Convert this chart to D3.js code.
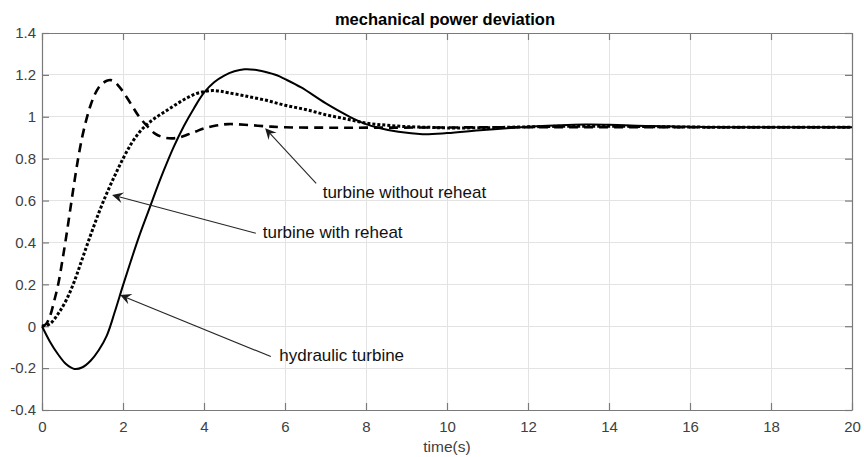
<!DOCTYPE html>
<html>
<head>
<meta charset="utf-8">
<script src="https://cdn.jsdelivr.net/npm/d3@7"></script>
<style>
  html, body { margin: 0; padding: 0; background: #fff; }
  svg { display: block; font-family: "Liberation Sans", Arial, sans-serif; }
</style>
</head>
<body>
<svg id="chart" width="864" height="457"></svg>
<script>
// ---- data ----
const title = "mechanical power deviation";
const xLabel = "time(s)";
const xTicks = [0, 2, 4, 6, 8, 10, 12, 14, 16, 18, 20];
const yTicks = [-0.4, -0.2, 0, 0.2, 0.4, 0.6, 0.8, 1, 1.2, 1.4];

// turbine without reheat (dashed)
const tNoReheat = [0, 0.1, 0.2, 0.3, 0.4, 0.5, 0.6, 0.7, 0.8, 0.9, 1.0, 1.1, 1.2, 1.3, 1.4, 1.5, 1.6, 1.7, 1.8, 1.9, 2.0, 2.2, 2.4, 2.6, 2.8, 3.0, 3.2, 3.4, 3.6, 3.8, 4.0, 4.3, 4.6, 5.0, 5.5, 6.0, 7, 8, 10, 12, 14, 16, 18, 20];
const pNoReheat = [0, 0.01, 0.05, 0.12, 0.2, 0.31, 0.43, 0.56, 0.69, 0.81, 0.91, 0.99, 1.055, 1.105, 1.14, 1.16, 1.172, 1.175, 1.165, 1.145, 1.12, 1.06, 1.0, 0.955, 0.918, 0.902, 0.897, 0.902, 0.915, 0.93, 0.945, 0.958, 0.965, 0.962, 0.955, 0.95, 0.948, 0.948, 0.949, 0.95, 0.95, 0.95, 0.95, 0.95];

// turbine with reheat (dotted)
const tReheat = [0, 0.2, 0.4, 0.6, 0.8, 1.0, 1.2, 1.4, 1.6, 1.8, 2.0, 2.2, 2.4, 2.6, 2.8, 3.0, 3.2, 3.4, 3.6, 3.8, 4.0, 4.2, 4.4, 4.6, 5.0, 5.5, 6.0, 6.5, 7.0, 7.5, 8.0, 8.5, 9.0, 9.5, 10, 11, 12, 13, 14, 15, 16, 17, 18, 19, 20];
const pReheat = [0, 0.012, 0.06, 0.125, 0.215, 0.325, 0.435, 0.54, 0.635, 0.72, 0.8, 0.87, 0.925, 0.965, 0.995, 1.02, 1.045, 1.07, 1.092, 1.11, 1.12, 1.125, 1.122, 1.115, 1.10, 1.08, 1.055, 1.035, 1.01, 0.99, 0.97, 0.96, 0.953, 0.95, 0.947, 0.948, 0.952, 0.955, 0.955, 0.953, 0.951, 0.95, 0.95, 0.95, 0.95];

// hydraulic turbine (solid)
const tHydro = [0, 0.2, 0.4, 0.6, 0.8, 1.0, 1.2, 1.4, 1.6, 1.8, 2.0, 2.2, 2.4, 2.6, 2.8, 3.0, 3.25, 3.5, 3.75, 4.0, 4.25, 4.5, 4.75, 5.0, 5.25, 5.5, 5.8, 6.0, 6.4, 7.0, 7.6, 8.0, 8.3, 8.8, 9.4, 10, 10.9, 12.1, 13.4, 14, 15, 16, 17, 18, 19, 20];
const pHydro = [0, -0.075, -0.135, -0.182, -0.204, -0.196, -0.165, -0.115, -0.045, 0.07, 0.195, 0.315, 0.43, 0.535, 0.64, 0.74, 0.855, 0.955, 1.04, 1.115, 1.165, 1.197, 1.217, 1.227, 1.225, 1.215, 1.198, 1.18, 1.14, 1.065, 1.0, 0.965, 0.948, 0.928, 0.917, 0.922, 0.937, 0.953, 0.963, 0.962, 0.956, 0.952, 0.95, 0.95, 0.95, 0.95];

// annotations: label, arrow tip (t, p), arrow tail (t, p), text anchor (t, p)
const annLabels = ["turbine without reheat", "turbine with reheat", "hydraulic turbine"];
const annTip  = [[5.51, 0.945], [1.73, 0.627], [1.93, 0.149]];
const annTail = [[6.77, 0.682], [5.28, 0.444], [5.65, -0.145]];
const annText = [[6.93, 0.641], [5.45, 0.451], [5.86, -0.138]];

// ---- layout ----
const W = 864, H = 457;
const margin = {left: 42, top: 33, right: 12, bottom: 47};
const svg = d3.select("#chart");
const x = d3.scaleLinear().domain([0, 20]).range([margin.left, W - margin.right]);
const y = d3.scaleLinear().domain([-0.4, 1.4]).range([H - margin.bottom, margin.top]);
const x0 = x.range()[0], x1 = x.range()[1], y0 = y.range()[0], y1 = y.range()[1];

const axisColor = "#7a7a7a", textColor = "#404040", gridColor = "#e3e3e3";
const tickLen = 7;

// grid
svg.append("g").selectAll("line").data(xTicks).join("line")
  .attr("x1", d => x(d)).attr("x2", d => x(d)).attr("y1", y0).attr("y2", y1)
  .attr("stroke", gridColor).attr("stroke-width", 1).attr("shape-rendering", "crispEdges");
svg.append("g").selectAll("line").data(yTicks).join("line")
  .attr("y1", d => y(d)).attr("y2", d => y(d)).attr("x1", x0).attr("x2", x1)
  .attr("stroke", gridColor).attr("stroke-width", 1).attr("shape-rendering", "crispEdges");

// axes via d3 axis (inward ticks)
const fmt = d => (Math.abs(d) < 1e-9 ? "0" : String(+d.toFixed(1)));
const xAxisB = d3.axisBottom(x).tickValues(xTicks).tickSizeInner(-tickLen).tickSizeOuter(0).tickPadding(11).tickFormat(fmt);
const xAxisT = d3.axisTop(x).tickValues(xTicks).tickSizeInner(-tickLen).tickSizeOuter(0).tickFormat("");
const yAxisL = d3.axisLeft(y).tickValues(yTicks).tickSizeInner(-tickLen).tickSizeOuter(0).tickPadding(6).tickFormat(fmt);
const yAxisR = d3.axisRight(y).tickValues(yTicks).tickSizeInner(-tickLen).tickSizeOuter(0).tickFormat("");

function styleAxis(g) {
  g.select(".domain").attr("stroke", axisColor).attr("stroke-width", 1.2);
  g.selectAll(".tick line").attr("stroke", axisColor).attr("stroke-width", 1.2);
  g.selectAll(".tick text").attr("fill", textColor).style("font-size", "15px").style("font-family", '"Liberation Sans", Arial, sans-serif');
}
svg.append("g").attr("transform", `translate(0,${y0})`).call(xAxisB).call(styleAxis);
svg.append("g").attr("transform", `translate(0,${y1})`).call(xAxisT).call(styleAxis);
svg.append("g").attr("transform", `translate(${x0},0)`).call(yAxisL).call(styleAxis);
svg.append("g").attr("transform", `translate(${x1},0)`).call(yAxisR).call(styleAxis);

// series
const line = d3.line().x(d => x(d[0])).y(d => y(d[1])).curve(d3.curveCatmullRom.alpha(0.5));
const series = [
  {t: tHydro, p: pHydro, width: 2, dash: null},
  {t: tReheat, p: pReheat, width: 3, dash: "3,2"},
  {t: tNoReheat, p: pNoReheat, width: 2.6, dash: "9,6"}
];
const plot = svg.append("g");
series.forEach(s => {
  plot.append("path")
    .datum(d3.zip(s.t, s.p))
    .attr("d", line)
    .attr("fill", "none")
    .attr("stroke", "#000")
    .attr("stroke-width", s.width)
    .attr("stroke-dasharray", s.dash)
    .attr("stroke-linejoin", "round");
});

// annotations
const ann = svg.append("g");
annLabels.forEach((lab, i) => {
  const tx = x(annTip[i][0]), ty = y(annTip[i][1]);
  const sx = x(annTail[i][0]), sy = y(annTail[i][1]);
  const ang = Math.atan2(ty - sy, tx - sx);
  ann.append("line").attr("x1", sx).attr("y1", sy)
    .attr("x2", tx - 7 * Math.cos(ang)).attr("y2", ty - 7 * Math.sin(ang))
    .attr("stroke", "#262626").attr("stroke-width", 1.1);
  ann.append("path")
    .attr("d", "M0,0 L-11,-5.5 L-7,0 L-11,5.5 Z")
    .attr("transform", `translate(${tx},${ty}) rotate(${ang * 180 / Math.PI})`)
    .attr("fill", "#1a1a1a");
  ann.append("text")
    .attr("x", x(annText[i][0])).attr("y", y(annText[i][1]))
    .attr("dy", "0.35em")
    .attr("fill", "#111")
    .style("font-size", "17px")
    .text(lab);
});

// title & x label
svg.append("text").attr("x", (x0 + x1) / 2 - 2).attr("y", 25)
  .attr("text-anchor", "middle").attr("fill", "#000")
  .style("font-size", "16.5px").style("font-weight", "bold").text(title);
svg.append("text").attr("x", (x0 + x1) / 2).attr("y", 452)
  .attr("text-anchor", "middle").attr("fill", textColor)
  .style("font-size", "15.5px").text(xLabel);
</script>
</body>
</html>
